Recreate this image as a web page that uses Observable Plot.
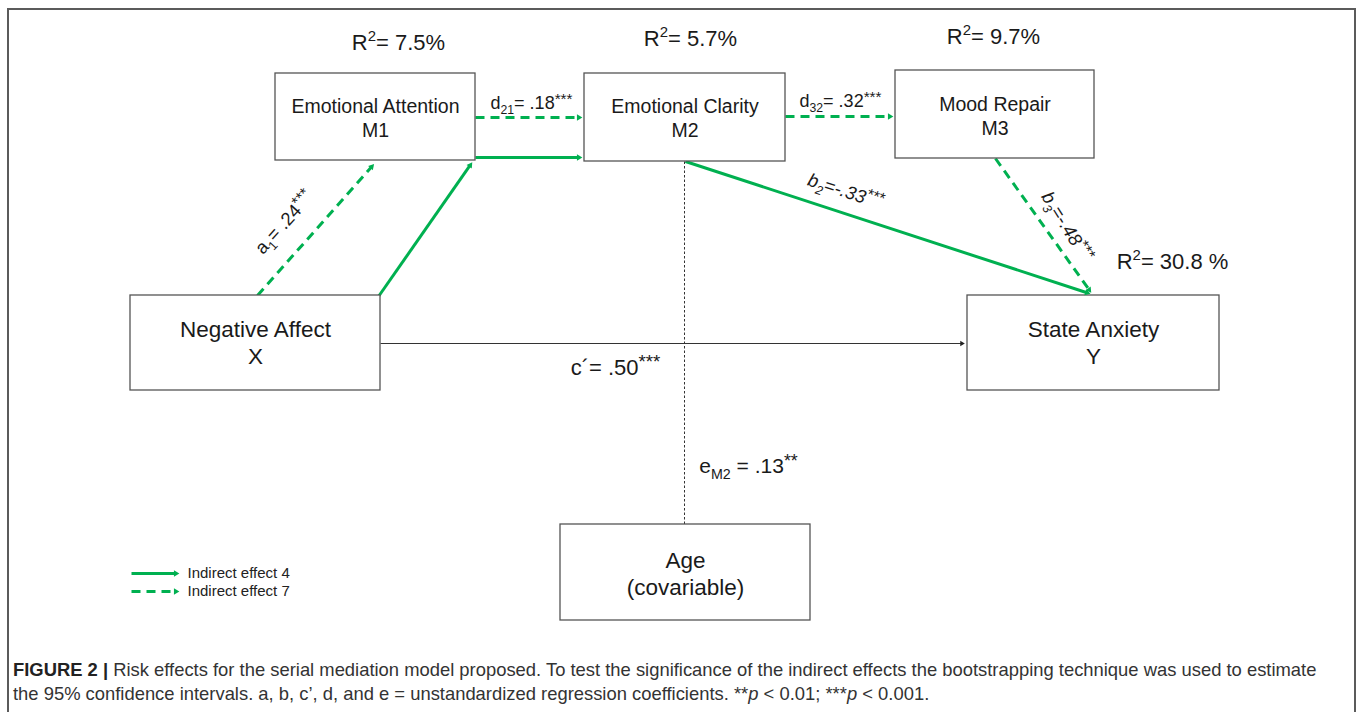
<!DOCTYPE html>
<html><head><meta charset="utf-8">
<script src="https://cdn.jsdelivr.net/npm/d3@7"></script>
<script src="https://cdn.jsdelivr.net/npm/@observablehq/plot@0.6"></script>
<style>
body{margin:0;background:#fff;width:1357px;height:712px;overflow:hidden;position:relative;font-family:"Liberation Sans",Arial,sans-serif;}
#frame{position:absolute;left:7px;top:8px;width:1345px;height:760px;border:2px solid #5b5b5b;border-bottom:none;box-sizing:content-box;}
#chart{position:absolute;left:0;top:0;}
#caption{position:absolute;left:13px;top:658px;font-family:"Liberation Sans Narrow","Arial Narrow",sans-serif;font-size:18.4px;line-height:24px;color:#333;white-space:nowrap;}
#caption b{color:#222;}
</style></head><body>
<div id="frame"></div>
<div id="chart"></div>
<div id="caption"><b>FIGURE 2 |</b> Risk effects for the serial mediation model proposed. To test the significance of the indirect effects the bootstrapping technique was used to estimate<br>the 95% confidence intervals. a, b, c’, d, and e = unstandardized regression coefficients. **<i>p</i> &lt; 0.01; ***<i>p</i> &lt; 0.001.</div>
<script>
// ---------- data ----------
const nodeIds    = ["M1", "M2", "M3", "X", "Y", "COV"];
const nodeTitles = ["Emotional Attention", "Emotional Clarity", "Mood Repair", "Negative Affect", "State Anxiety", "Age"];
const nodeSubs   = ["M1", "M2", "M3", "X", "Y", "(covariable)"];
const rSquaredNodes  = ["M1", "M2", "M3", "Y"];
const rSquaredValues = ["7.5%", "5.7%", "9.7%", "30.8 %"];

const pathNames  = ["a1", "d21", "d32", "b2", "b3", "c'", "eM2"];
const pathLabels = ["a_{1}= .24^{***}", "d_{21}= .18^{***}", "d_{32}= .32^{***}", "b_{2}=-.33^{***}", "b_{3}=-.48^{***}", "c´= .50^{***}", "e_{M2} = .13^{**}"];
const pathCoefs  = [0.24, 0.18, 0.32, -0.33, -0.48, 0.50, 0.13];

const legendLabels = ["Indirect effect 4", "Indirect effect 7"];

// ---------- layout (page pixel coordinates) ----------
const W = 1357, H = 648;
const boxLayout = {
  M1:  {x1: 275, x2: 475, y1: 73,  y2: 160, ty: 106, sy: 130, fs: 19.5},
  M2:  {x1: 584, x2: 785, y1: 73,  y2: 161, ty: 106, sy: 130, fs: 19.5},
  M3:  {x1: 895, x2: 1094, y1: 70, y2: 158, ty: 104, sy: 128, fs: 19.5},
  X:   {x1: 130, x2: 380, y1: 295, y2: 390, ty: 329, sy: 356, fs: 22.5},
  Y:   {x1: 967, x2: 1219, y1: 295, y2: 390, ty: 329, sy: 356, fs: 22.5},
  COV: {x1: 560, x2: 810, y1: 524, y2: 620, ty: 560, sy: 587, fs: 22.5}
};
const r2Layout = {M1: [398, 42], M2: [690, 38], M3: [993, 36], Y: [1172, 261]};

// arrows: style = ind4 (green solid), ind7 (green dashed), direct (black), cov (dotted, no head)
const arrowLayout = [
  {style: "ind7",   x1: 257, y1: 295, x2: 375, y2: 162},
  {style: "ind4",   x1: 378, y1: 296, x2: 473, y2: 160},
  {style: "ind7",   x1: 475, y1: 117, x2: 584, y2: 117},
  {style: "ind4",   x1: 475, y1: 157, x2: 584, y2: 157},
  {style: "ind7",   x1: 785, y1: 116, x2: 895, y2: 116},
  {style: "ind4",   x1: 685, y1: 161, x2: 1092, y2: 294},
  {style: "ind7",   x1: 995, y1: 158, x2: 1092, y2: 294},
  {style: "direct", x1: 380, y1: 343, x2: 967, y2: 343},
  {style: "cov",    x1: 684, y1: 161, x2: 684, y2: 524}
];
const labelLayout = {
  a1:   {x: 284, y: 222, rotate: -48, fs: 18.5, italic: false},
  d21:  {x: 531, y: 103, rotate: 0, fs: 18, italic: false},
  d32:  {x: 840, y: 101, rotate: 0, fs: 18, italic: false},
  b2:   {x: 845, y: 191, rotate: 18, fs: 18.5, italic: true},
  b3:   {x: 1066, y: 226, rotate: 58, fs: 18.5, italic: true},
  "c'": {x: 615, y: 367, rotate: 0, fs: 22, italic: false},
  eM2:  {x: 748, y: 466, rotate: 0, fs: 21, italic: false}
};
const legendLayout = [
  {style: "ind4", x1: 131, x2: 181, y: 573},
  {style: "ind7", x1: 131, x2: 181, y: 591}
];

// ---------- build tables ----------
const GREEN = "#00b050";
const boxes = nodeIds.map((id, i) => ({id, title: nodeTitles[i], sub: nodeSubs[i], ...boxLayout[id]}));
const r2 = rSquaredNodes.map((id, i) => ({text: "R^{2}= " + rSquaredValues[i], x: r2Layout[id][0], y: r2Layout[id][1]}));
const labels = pathNames.map((n, i) => ({name: n, coef: pathCoefs[i], text: pathLabels[i], ...labelLayout[n]}));
const legendLines = legendLayout.map((d, i) => ({...d, label: legendLabels[i], y1: d.y, y2: d.y}));

const HEAD_R = 3.7;
const tipDist = 2 * Math.sqrt((Math.PI * HEAD_R * HEAD_R) / (3 * Math.sqrt(3)));
function withHead(a) {
  const dx = a.x2 - a.x1, dy = a.y2 - a.y1, L = Math.hypot(dx, dy);
  const ux = dx / L, uy = dy / L;
  return {
    ...a,
    lx2: a.x2 - ux * tipDist, ly2: a.y2 - uy * tipDist,
    hx: a.x2 - ux * tipDist, hy: a.y2 - uy * tipDist,
    angle: Math.atan2(dx, -dy) * 180 / Math.PI
  };
}
const arrows = [...arrowLayout, ...legendLines].map(a => a.style === "cov" ? {...a, lx2: a.x2, ly2: a.y2} : withHead(a));
const headed = arrows.filter(a => a.style !== "cov");
const strokeOf = s => (s === "ind4" || s === "ind7") ? GREEN : "#222";

const textOpts = {x: "x", y: "y", text: "text", rotate: "rotate", fontSize: d => d.fs, fill: "#1a1a1a"};

const plot = Plot.plot({
  width: W, height: H, margin: 0,
  x: {domain: [0, W], range: [0, W], axis: null},
  y: {domain: [0, H], range: [0, H], axis: null},
  style: {fontFamily: "'Liberation Sans', Arial, sans-serif", background: "transparent", color: "#1a1a1a"},
  marks: [
    Plot.link(arrows.filter(a => a.style === "cov"), {x1: "x1", y1: "y1", x2: "lx2", y2: "ly2", stroke: "#333", strokeWidth: 1, strokeDasharray: "2.5,2"}),
    Plot.link(arrows.filter(a => a.style === "direct"), {x1: "x1", y1: "y1", x2: "lx2", y2: "ly2", stroke: "#333", strokeWidth: 1.1}),
    Plot.link(arrows.filter(a => a.style === "ind4"), {x1: "x1", y1: "y1", x2: "lx2", y2: "ly2", stroke: GREEN, strokeWidth: 3}),
    Plot.link(arrows.filter(a => a.style === "ind7"), {x1: "x1", y1: "y1", x2: "lx2", y2: "ly2", stroke: GREEN, strokeWidth: 3, strokeDasharray: "9,6"}),
    Plot.rect(boxes, {x1: "x1", x2: "x2", y1: "y1", y2: "y2", fill: "white", stroke: "#555", strokeWidth: 1.3}),
    Plot.dot(headed, {x: "hx", y: "hy", rotate: "angle", symbol: "triangle2", r: d => d.style === "direct" ? 2.6 : HEAD_R, fill: d => strokeOf(d.style), stroke: "none"}),
    Plot.text(boxes, {x: d => (d.x1 + d.x2) / 2, y: "ty", text: "title", fontSize: d => d.fs, fill: "#1a1a1a"}),
    Plot.text(boxes, {x: d => (d.x1 + d.x2) / 2, y: "sy", text: "sub", fontSize: d => d.fs, fill: "#1a1a1a"}),
    Plot.text(r2, {x: "x", y: "y", text: "text", fontSize: 22, fill: "#1a1a1a"}),
    Plot.text(labels.filter(d => !d.italic), textOpts),
    Plot.text(labels.filter(d => d.italic), {...textOpts, fontStyle: "italic"}),
    Plot.text(legendLines, {x: d => d.x2 + 6, y: "y", text: "label", textAnchor: "start", fontSize: 15, fill: "#222"})
  ]
});
document.getElementById("chart").appendChild(plot);

// render _{sub} and ^{sup} as tspans
function richify(root) {
  root.querySelectorAll("text").forEach(t => {
    const s = t.textContent;
    if (!/[_^]\{/.test(s)) return;
    const base = parseFloat(getComputedStyle(t).fontSize) || 16;
    while (t.firstChild) t.removeChild(t.firstChild);
    const ns = "http://www.w3.org/2000/svg";
    const re = /([_^])\{([^}]*)\}/g;
    let last = 0, m, pending = 0;
    const add = (str, size, dy) => {
      if (!str) return;
      const ts = document.createElementNS(ns, "tspan");
      ts.textContent = str;
      if (size) ts.setAttribute("font-size", size);
      if (dy) ts.setAttribute("dy", dy);
      t.appendChild(ts);
    };
    while ((m = re.exec(s))) {
      const plain = s.slice(last, m.index);
      if (plain) { add(plain, null, pending ? -pending : 0); pending = 0; }
      const isSub = m[1] === "_";
      const isStar = /^\*+$/.test(m[2]);
      const off = isSub ? 0.28 * base : (isStar ? -0.3 * base : -0.38 * base);
      add(m[2], (isStar ? 0.85 : 0.68) * base, off - pending);
      pending = off;
      last = re.lastIndex;
    }
    add(s.slice(last), null, pending ? -pending : 0);
  });
}
richify(plot);
</script>
</body></html>
